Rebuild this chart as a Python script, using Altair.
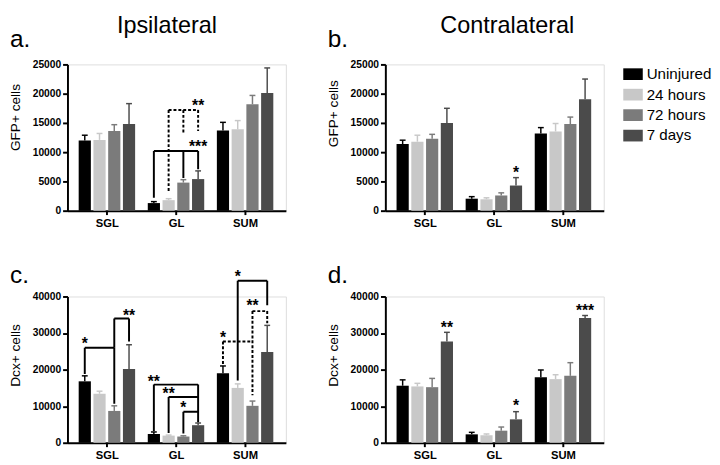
import altair as alt
import pandas as pd

groups = ["SGL", "GL", "SUM"]
series = ["Uninjured", "24 hours", "72 hours", "\u00a07 days"]
colors = ["#000000", "#c8c8c8", "#7b7b7b", "#4b4b4b"]
letters = ["a.", "b.", "c.", "d."]
col_titles = ["Ipsilateral", "Contralateral"]
y_titles = ["GFP+ cells", "Dcx+ cells"]
gfp_ticks = [0, 5000, 10000, 15000, 20000, 25000]
dcx_ticks = [0, 10000, 20000, 30000, 40000]

# bar heights [group][series] and upper end of the error bar
a_mean = [[12000, 12100, 13600, 14800], [1300, 1800, 4800, 5400], [13700, 13900, 18200, 20100]]
a_upper = [[12900, 13200, 14700, 18300], [1550, 2050, 5300, 6800], [15100, 15400, 19700, 24400]]
b_mean = [[11400, 11800, 12300, 15000], [2050, 1950, 2600, 4300], [13200, 13550, 14800, 19050]]
b_upper = [[12050, 12900, 13050, 17500], [2400, 2200, 3050, 5650], [14200, 14900, 16000, 22500]]
c_mean = [[16800, 13400, 8700, 20200], [2400, 1950, 1700, 4800], [19000, 15000, 10100, 24800]]
c_upper = [[18300, 14100, 10100, 26800], [2950, 2100, 1900, 5400], [21000, 16100, 11400, 32100]]
d_mean = [[15600, 15400, 15200, 27700], [2300, 2050, 3300, 6400], [17900, 17400, 18300, 34100]]
d_upper = [[17200, 16250, 17600, 30200], [2850, 2400, 4300, 8500], [19900, 18600, 21900, 34800]]

# significance brackets: (group, level, [(series, leg bottom)], style)
a_brackets = [
    ("GL", 10200, [(0, 2200), (2, 5600), (3, 7100)], "solid"),
    ("GL", 17200, [(1, 3300), (2, 13300), (3, 13600)], "dashed"),
]
a_stars = [("GL", 3, 11300, "***"), ("GL", 3, 18400, "**")]
b_brackets = []
b_stars = [("GL", 3, 7000, "*")]
c_brackets = [
    ("SGL", 26000, [(0, 18800), (2, 10700)], "solid"),
    ("SGL", 34000, [(2, 26000), (3, 27700)], "solid"),
    ("GL", 15900, [(0, 3200), (3, 5600)], "solid"),
    ("GL", 12500, [(1, 2700), (3, 12500)], "solid"),
    ("GL", 8500, [(2, 2500), (3, 8500)], "solid"),
    ("SUM", 44300, [(1, 17000), (3, 37600)], "solid"),
    ("SUM", 36000, [(2, 13000), (3, 32700)], "dashed"),
    ("SUM", 27700, [(0, 21500), (2, 27700)], "dashed"),
]
c_stars = [
    ("SGL", 0, 27700, "*"), ("SGL", 3, 35400, "**"),
    ("GL", 0, 17400, "**"), ("GL", 1, 14000, "**"), ("GL", 2, 10200, "*"),
    ("SUM", 1, 46000, "*"), ("SUM", 2, 38100, "**"), ("SUM", 0, 29500, "*"),
]
d_brackets = []
d_stars = [("SGL", 3, 32200, "**"), ("GL", 3, 10700, "*"), ("SUM", 3, 36900, "***")]

BAR_STEP = 0.2135
FONT = "Liberation Sans"


def pos(group, s):
    return groups.index(group) + (s - 1.5) * BAR_STEP


xscale = alt.Scale(domain=[-0.5, 2.52], nice=False, zero=False)
cscale = alt.Scale(domain=series, range=colors)
label_expr = "[" + ",".join("'%s'" % g for g in groups) + "][datum.value]"
legend = alt.Legend(
    title=None,
    symbolType="M-1,-0.6L1,-0.6L1,0.6L-1,0.6Z", symbolSize=400,
    symbolStrokeWidth=0, symbolOpacity=1, labelFontSize=15.5, labelFont=FONT,
    labelColor="black", rowPadding=2, labelOffset=4,
)


def panel(means, uppers, brackets, stars, ymax, yticks, ytitle, title_y, letter, col_title, col_x):
    rows = []
    for gi, g in enumerate(groups):
        for si, s in enumerate(series):
            rows.append({"pos": pos(g, si), "mean": means[gi][si],
                         "upper": uppers[gi][si], "series": s})
    df = pd.DataFrame(rows)
    yscale = alt.Scale(domain=[0, ymax], nice=False)
    xaxis = alt.Axis(values=[0, 1, 2], labelExpr=label_expr, title=None, tickSize=4,
                     tickWidth=2, domainWidth=2, domainColor="black", tickColor="black",
                     labelColor="black", labelFontSize=11.5, labelFontWeight="bold",
                     labelPadding=3, grid=False, labelOverlap=False, labelFont=FONT)
    yaxis = alt.Axis(values=yticks, format="d", title=ytitle, titleX=-46, titleY=title_y,
                     titleFontSize=14, titleFontWeight="normal", titleColor="black",
                     titleFont=FONT, labelFont=FONT, labelOverlap=False,
                     labelFontWeight="bold", labelFontSize=10.5, labelColor="black",
                     tickSize=5, tickWidth=2, domainWidth=2, domainColor="black",
                     tickColor="black", labelPadding=2, grid=False)

    def X(field):
        return alt.X(field, type="quantitative", scale=xscale, axis=xaxis)

    def Y(field):
        return alt.Y(field, type="quantitative", scale=yscale, axis=yaxis)

    base = alt.Chart(df)
    bars = base.mark_bar(size=12.5).encode(
        x=X("pos"), y=Y("mean"),
        color=alt.Color("series:N", scale=cscale, legend=legend),
    )
    whisk = base.mark_rule(strokeWidth=1.5).encode(
        x=X("pos"), y=Y("mean"), y2="upper:Q",
        stroke=alt.Stroke("series:N", scale=cscale, legend=None),
    )
    caps = base.mark_point(shape="M-1,0L1,0", size=36, strokeWidth=1.5, filled=False, opacity=1).encode(
        x=X("pos"), y=Y("upper"),
        stroke=alt.Stroke("series:N", scale=cscale, legend=None),
    )
    layers = [bars, whisk, caps]

    seg = []
    for g, level, legs, style in brackets:
        xs = [pos(g, s) for s, _ in legs]
        seg.append({"x": min(xs), "x2": max(xs), "y": level, "y2": level, "style": style})
        for s, bottom in legs:
            seg.append({"x": pos(g, s), "x2": pos(g, s), "y": level, "y2": bottom, "style": style})
    if seg:
        sdf = pd.DataFrame(seg)
        for style, dash in (("solid", [1, 0]), ("dashed", [3, 2])):
            part = sdf[sdf["style"] == style]
            if len(part):
                layers.append(alt.Chart(part).mark_rule(strokeWidth=2, color="black", strokeDash=dash).encode(
                    x=X("x"), x2="x2:Q", y=Y("y"), y2="y2:Q"))
    if stars:
        tdf = pd.DataFrame([{"x": pos(g, s), "y": y, "t": t} for g, s, y, t in stars])
        layers.append(alt.Chart(tdf).mark_text(fontSize=16, fontWeight="bold", font=FONT, dy=8,
                                               baseline="alphabetic", color="black").encode(
            x=X("x"), y=Y("y"), text="t:N"))
    ldf = pd.DataFrame({"t": [letter]})
    layers.append(alt.Chart(ldf).mark_text(fontSize=25, font=FONT, align="left",
                                           baseline="alphabetic", color="black").encode(
        x=alt.value(-59), y=alt.value(-18 if col_title else -14), text="t:N"))
    if col_title:
        cdf = pd.DataFrame({"t": [col_title]})
        layers.append(alt.Chart(cdf).mark_text(fontSize=24, font=FONT, align="center",
                                               baseline="alphabetic", color="black").encode(
            x=alt.value(col_x), y=alt.value(-32), text="t:N"))
    return alt.layer(*layers).properties(width=224, height=150)


pa = panel(a_mean, a_upper, a_brackets, a_stars, 25000, gfp_ticks, y_titles[0], 54, letters[0], col_titles[0], 102)
pb = panel(b_mean, b_upper, b_brackets, b_stars, 25000, gfp_ticks, y_titles[0], 50, letters[1], col_titles[1], 125)
pc = panel(c_mean, c_upper, c_brackets, c_stars, 40000, dcx_ticks, y_titles[1], 60, letters[2], None, 0)
pd_ = panel(d_mean, d_upper, d_brackets, d_stars, 40000, dcx_ticks, y_titles[1], 60, letters[3], None, 0)

chart = alt.concat(
    pa, pb, pc, pd_, columns=2,
    spacing=alt.RowColnumber(row=88, column=102), bounds="flush", padding=0,
).resolve_scale(x="independent", y="independent").configure_view(stroke=None).configure(
    font=FONT
).configure_axis(
    domainColor="black", domainWidth=2, tickColor="black", tickWidth=2, labelColor="black",
    grid=False, labelFontWeight="bold", labelFont=FONT,
).configure_legend(
    orient="right", offset=19, padding=0,
)

chart.save("out.html", embed_options={"renderer": "svg", "actions": False})
